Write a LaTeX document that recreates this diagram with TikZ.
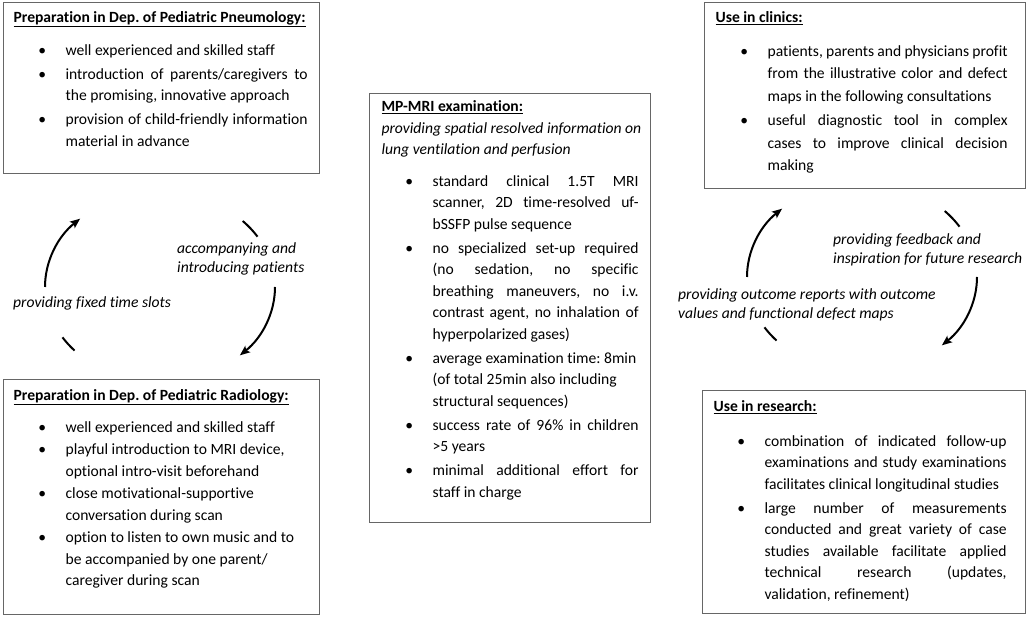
\documentclass[tikz,border=0pt]{standalone}
\usepackage{fontspec}
\setmainfont{Carlito}[Ligatures=NoCommon]
\usepackage{enumitem}
\usetikzlibrary{arrows.meta}

\setlist[itemize]{label=\textbullet, leftmargin=52pt, labelsep=19.5pt, itemsep=2.5pt, parsep=0pt, topsep=10pt, partopsep=0pt}

\newcommand{\panelfont}{\fontsize{15.6}{21.5}\selectfont}
\newcommand{\paneltitle}[1]{\underline{\textbf{#1}}}
\frenchspacing

\begin{document}
\begin{tikzpicture}[x=1pt, y=1pt,
    panel/.style={draw=black!60, line width=1.2pt, rectangle, anchor=north west, inner xsep=#1, inner ysep=9pt, font=\panelfont},
    panel/.default=10pt,
    cyclabel/.style={font=\itshape\fontsize{15.6}{19.3}\selectfont, align=left, inner sep=0pt, anchor=base west},
    cycarrow/.style={line width=2pt, -{Stealth[length=10pt,width=8pt,inset=2pt]}},
    cycarc/.style={line width=2pt}]
\useasboundingbox (0,0) rectangle (1026,617);

% preparation boxes, left column
\node[panel] (pneumo) at (3,615) {\parbox[t][153pt][t]{296pt}{%
    \paneltitle{Preparation in Dep. of Pediatric Pneumology:}
    \begin{itemize}[rightmargin=2pt, topsep=11pt]
    \item well experienced and skilled staff
    \item introduction of parents/caregivers to\linebreak the promising, innovative approach
    \item provision of child-friendly information\linebreak material in advance
    \end{itemize}}};

\node[panel, inner ysep=10pt] (radio) at (3,238) {\parbox[t][215pt][t]{296pt}{%
    \paneltitle{Preparation in Dep. of Pediatric Radiology:}
    \begin{itemize}[rightmargin=2pt, itemsep=1pt]
    \item well experienced and skilled staff
    \item playful introduction to MRI device,\newline optional intro-visit beforehand
    \item close motivational-supportive\newline conversation during scan
    \item option to listen to own music and to\newline be accompanied by one parent/\newline caregiver during scan
    \end{itemize}}};

% examination box, middle
\node[panel=12pt, inner ysep=7pt] (mri) at (369,524) {\parbox[t][415pt][t]{257pt}{%
    \paneltitle{MP-MRI examination:}\par
    \textit{\mbox{providing spatial resolved information on}\newline lung ventilation and perfusion}
    \begin{itemize}[leftmargin=51pt]
    \item standard clinical 1.5T MRI\linebreak scanner, 2D time-resolved uf-\linebreak bSSFP pulse sequence
    \item no specialized set-up required\linebreak (no sedation, no specific\linebreak breathing maneuvers, no i.v.\linebreak contrast agent, no inhalation of\linebreak hyperpolarized gases)
    \item average examination time: 8min\newline (of total 25min also including\newline structural sequences)
    \item success rate of 96\% in children\linebreak >5 years
    \item minimal additional effort for\linebreak staff in charge
    \end{itemize}}};

% use boxes, right column
\node[panel=11pt] (clinics) at (704,615) {\parbox[t][168pt][t]{299pt}{%
    \fontsize{15.6}{22.5}\selectfont
    \paneltitle{Use in clinics:}
    \begin{itemize}[rightmargin=7pt, topsep=11pt, itemsep=2pt]
    \item patients, parents and physicians profit\linebreak from the illustrative color and defect\linebreak maps in the following consultations
    \item useful diagnostic tool in complex\linebreak cases to improve clinical decision\linebreak making
    \end{itemize}}};

\node[panel=11pt, inner ysep=10pt] (research) at (702,227) {\parbox[t][203pt][t]{301pt}{%
    \paneltitle{Use in research:}
    \begin{itemize}[leftmargin=51pt, rightmargin=8pt, topsep=13pt]
    \item combination of indicated follow-up\linebreak examinations and study examinations\linebreak facilitates clinical longitudinal studies
    \item large number of measurements\linebreak conducted and great variety of case\linebreak studies available facilitate applied\linebreak technical research (updates,\linebreak validation, refinement)
    \end{itemize}}};

% left cycle
\coordinate (lcyc) at (160,330);
\draw[cycarrow] ([shift={(180:115pt and 95pt)}]lcyc) arc[start angle=180, end angle=134, x radius=115, y radius=95];
\draw[cycarc] ([shift={(44:115pt and 95pt)}]lcyc) arc[start angle=44, end angle=32, x radius=115, y radius=95];
\draw[cycarrow] ([shift={(0:115pt and 95pt)}]lcyc) arc[start angle=0, end angle=-46, x radius=115, y radius=95];
\draw[cycarc] ([shift={(212:115pt and 95pt)}]lcyc) arc[start angle=212, end angle=222, x radius=115, y radius=95];
\node[cyclabel] (accomp) at (177,344) {accompanying and\\introducing patients};
\node[cyclabel] (slots) at (13,309) {providing fixed time slots};

% right cycle
\coordinate (rcyc) at (862,340);
\draw[cycarrow] ([shift={(180:115pt and 95pt)}]rcyc) arc[start angle=180, end angle=134, x radius=115, y radius=95];
\draw[cycarc] ([shift={(44:115pt and 95pt)}]rcyc) arc[start angle=44, end angle=32, x radius=115, y radius=95];
\draw[cycarrow] ([shift={(0:115pt and 95pt)}]rcyc) arc[start angle=0, end angle=-46, x radius=115, y radius=95];
\draw[cycarc] ([shift={(212:115pt and 95pt)}]rcyc) arc[start angle=212, end angle=222, x radius=115, y radius=95];
\node[cyclabel] (feedback) at (833,353) {providing feedback and\\inspiration for future research};
\node[cyclabel] (reports) at (678,298) {providing outcome reports with outcome\\values and functional defect maps};
\end{tikzpicture}
\end{document}
